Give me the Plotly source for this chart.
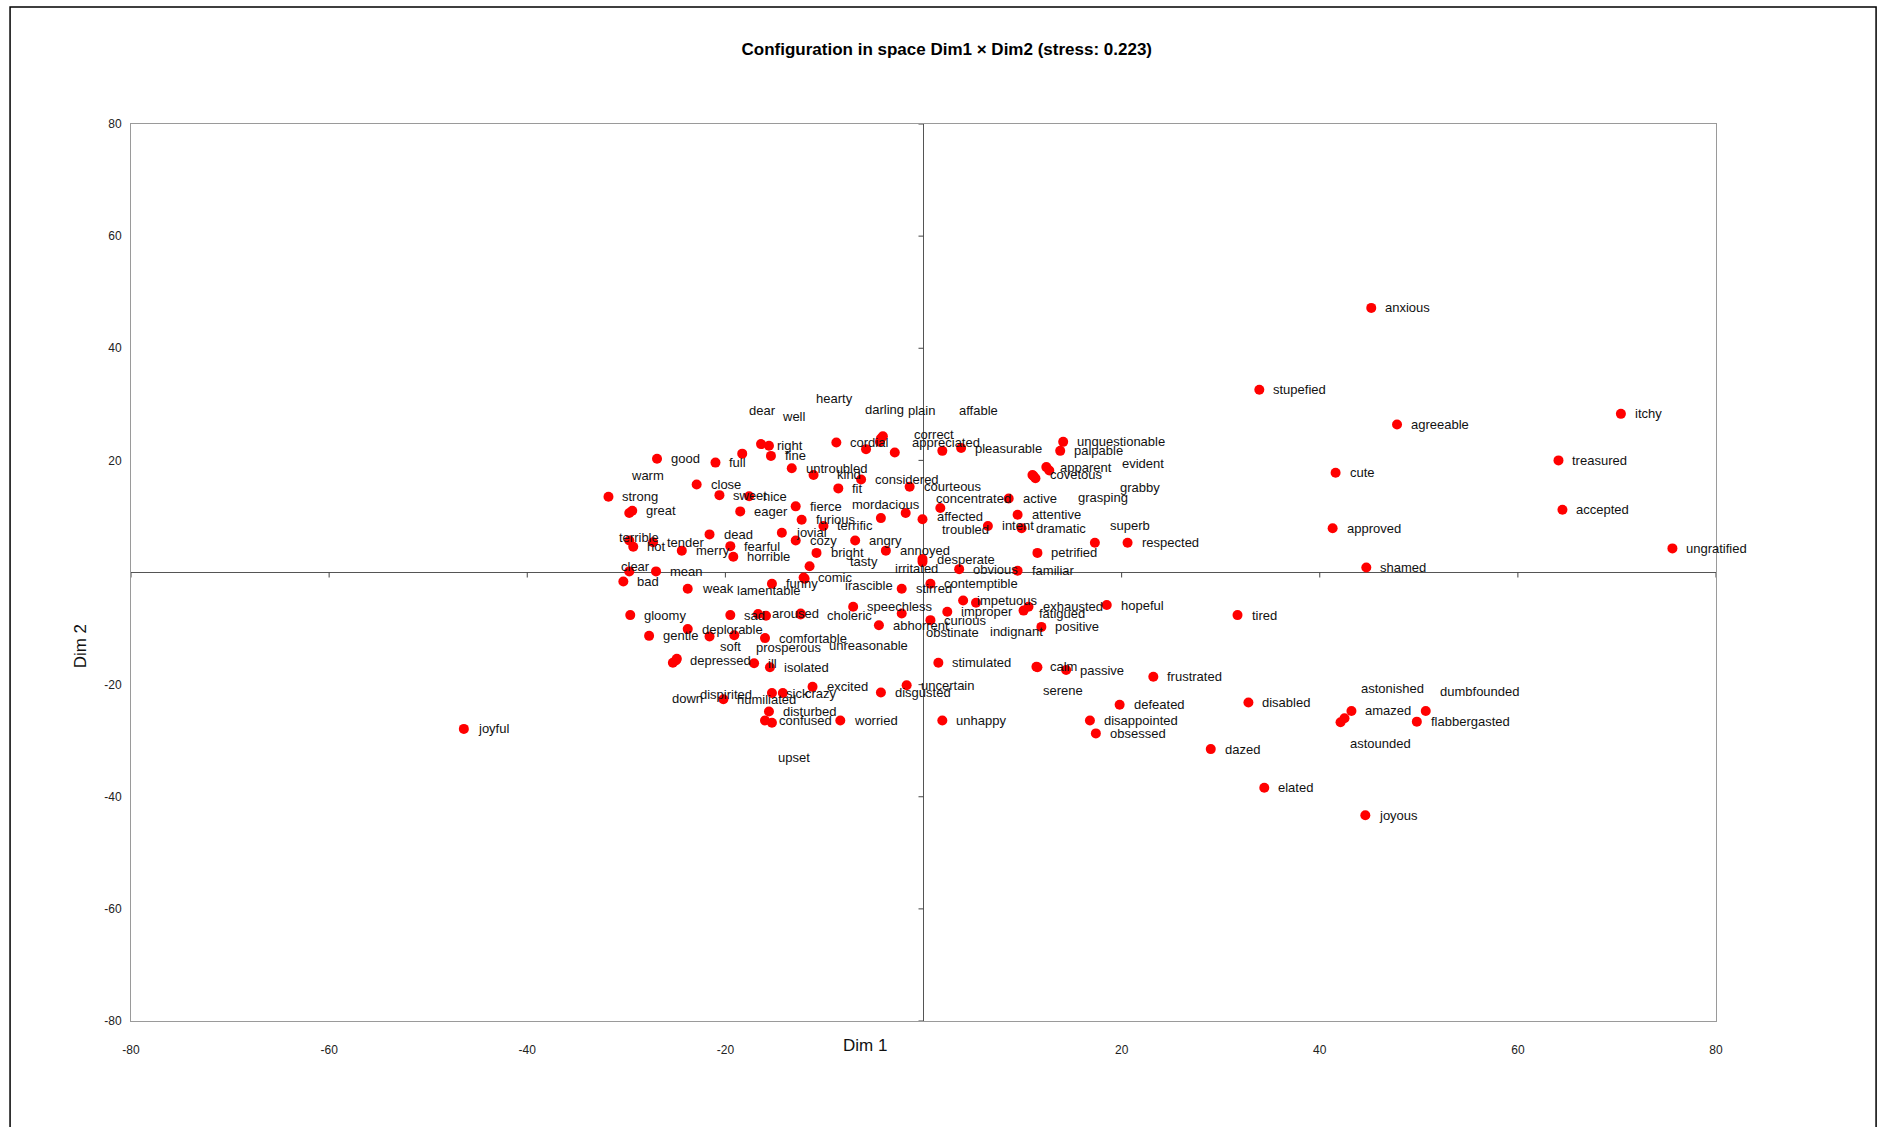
import plotly.graph_objects as go

# ---------------- data ----------------
names = [
    "joyful", "anxious", "stupefied", "agreeable", "itchy", "treasured", "cute", "accepted",
    "approved", "ungratified", "shamed", "tired", "disabled", "dazed", "elated", "joyous",
    "amazed", "astonished", "astounded", "dumbfounded", "flabbergasted", "frustrated",
    "defeated", "disappointed", "obsessed", "calm", "passive", "serene", "stimulated",
    "unhappy", "uncertain", "disgusted", "worried", "excited", "upset", "confused",
    "disturbed", "sick", "crazy", "humiliated", "dispirited", "down", "depressed", "ill",
    "isolated", "prosperous", "comfortable", "unreasonable", "soft", "deplorable", "gentle",
    "gloomy", "sad", "aroused", "lamentable", "choleric", "speechless", "abhorrent",
    "stirred", "obstinate", "curious", "improper", "impetuous", "indignant", "contemptible",
    "irascible", "comic", "funny", "weak", "bad", "clear", "mean", "tasty", "irritated",
    "desperate", "obvious", "familiar", "petrified", "superb", "respected", "hopeful",
    "exhausted", "fatigued", "positive", "annoyed", "angry", "bright", "cozy", "jovial",
    "terrific", "furious", "horrible", "fearful", "merry", "tender", "hot", "terrible",
    "dead", "great", "warm", "strong", "eager", "fierce", "close", "sweet", "nice", "good",
    "full", "dear", "well", "right", "fine", "untroubled", "kind", "cordial", "hearty",
    "darling", "correct", "plain", "appreciated", "affable", "pleasurable", "considered",
    "fit", "courteous", "mordacious", "concentrated", "affected", "troubled", "active",
    "attentive", "intent", "dramatic", "unquestionable", "palpable", "apparent", "evident",
    "covetous", "grasping", "grabby",
]

dim1 = [
    -46.4, 45.2, 33.9, 47.8, 70.4, 64.1, 41.6, 64.5,
    41.3, 75.6, 44.7, 31.7, 32.8, 29.0, 34.4, 44.6,
    43.2, 42.5, 42.1, 50.7, 49.8, 23.2,
    19.8, 16.8, 17.4, 11.4, 14.4, 11.5, 1.5,
    1.9, -1.7, -4.3, -8.4, -11.2, -15.3, -16.0,
    -15.6, -15.3, -14.2, -20.2, -25.3, -24.9, -25.0, -17.1,
    -15.5, -19.1, -16.0, -12.4, -21.6, -23.8, -27.7,
    -29.6, -19.5, -16.7, -15.9, -12.4, -7.1, -4.5,
    -2.2, -2.2, 0.7, 2.4, 4.0, 5.3, 0.7,
    -12.0, -12.1, -15.3, -23.8, -30.3, -29.7, -27.0, -11.5, -0.1,
    -0.1, 3.6, 9.5, 11.5, 17.3, 20.6, 18.5,
    10.6, 10.1, 11.9, -3.8, -6.9, -10.8, -12.9, -14.3,
    -10.1, -12.3, -19.2, -19.5, -24.4, -27.3, -29.3, -29.7,
    -21.6, -29.4, -29.7, -31.8, -18.5, -12.9, -22.9, -20.6, -17.6, -26.9,
    -21.0, -18.3, -16.4, -15.6, -15.4, -13.3, -11.1, -8.8, -5.8,
    -4.4, -4.1, -4.3, -2.9, 1.9, 3.8, -6.3,
    -8.6, -1.4, -4.3, -1.8, -0.1, 1.7, 8.6,
    9.5, 6.5, 9.9, 14.1, 13.8, 12.4, 12.7,
    11.0, 11.3, 11.1,
]

dim2 = [
    -27.9, 47.2, 32.6, 26.4, 28.3, 20.0, 17.8, 11.2,
    7.9, 4.3, 0.9, -7.6, -23.2, -31.5, -38.4, -43.3,
    -24.7, -26.0, -26.7, -24.7, -26.6, -18.6,
    -23.6, -26.4, -28.7, -16.8, -17.4, -16.9, -16.1,
    -26.4, -20.1, -21.4, -26.4, -20.4, -26.8, -26.4,
    -24.8, -21.5, -21.5, -22.6, -16.1, -15.4, -15.7, -16.2,
    -16.9, -11.2, -11.7, -7.5, -11.4, -10.1, -11.3,
    -7.6, -7.6, -7.4, -7.7, -7.3, -6.1, -9.4,
    -2.9, -7.3, -8.5, -7.0, -5.0, -5.4, -2.0,
    -1.1, -0.9, -2.0, -2.9, -1.6, 0.2, 0.2, 1.1, 1.9,
    2.4, 0.6, 0.3, 3.5, 5.3, 5.3, -5.8,
    -6.1, -6.8, -9.7, 3.9, 5.7, 3.5, 5.7, 7.1,
    8.3, 9.4, 2.8, 4.7, 3.9, 5.4, 4.6, 5.7,
    6.8, 11.0, 10.6, 13.5, 10.9, 11.8, 15.7, 13.8, 13.6, 20.3,
    19.6, 21.2, 22.9, 22.6, 20.8, 18.6, 17.4, 23.2, 22.0,
    23.3, 24.3, 23.9, 21.4, 21.7, 22.2, 16.6,
    15.0, 15.3, 9.7, 10.6, 9.5, 11.5, 13.2,
    10.3, 8.3, 7.9, 23.3, 21.7, 18.8, 18.2,
    17.4, 16.8, 17.2,
]

x_ticks = [-80, -60, -40, -20, 20, 40, 60, 80]
y_ticks = [-80, -60, -40, -20, 20, 40, 60, 80]

# label placement (pixel shifts from the point); default is right of point
DEFAULT_SHIFT = (12, 0)
LABEL_SHIFT = {
    "astonished": (14, 30), "astounded": (7, -21), "dumbfounded": (12, 19),
    "serene": (4, -23), "upset": (4, -35), "crazy": (20, 0), "dispirited": (25, -32),
    "down": (-7, -40), "prosperous": (20, -12), "unreasonable": (26, -31),
    "soft": (8, -10), "lamentable": (-31, 25), "choleric": (24, -2),
    "obstinate": (22, -19), "indignant": (12, -29), "irascible": (38, -7),
    "clear": (-10, 5), "tasty": (38, 5), "irritated": (-30, -7), "superb": (13, 17),
    "terrible": (-12, 3), "warm": (0, 38), "dear": (5, 43), "well": (19, 28),
    "right": (6, 0), "kind": (21, 0), "hearty": (-52, 51), "darling": (-17, 32),
    "correct": (29, 2), "plain": (25, 28), "appreciated": (15, 10), "affable": (15, 40),
    "mordacious": (-31, 14), "concentrated": (28, 15), "affected": (12, 3),
    "troubled": (0, -21), "evident": (71, 7), "covetous": (16, 0), "grasping": (41, -19),
    "grabby": (85, -11), "fatigued": (13, -3),
}

LABEL_FONT = "Liberation Sans Narrow, Arial Narrow, Liberation Sans, Arial, sans-serif"

# ---------------- figure ----------------
fig = go.Figure()
fig.add_trace(go.Scatter(
    x=dim1, y=dim2, mode="markers", text=names, hoverinfo="text",
    marker=dict(color="#FF0000", size=10, line=dict(width=0)),
    showlegend=False,
))

annotations = []
for n, xv, yv in zip(names, dim1, dim2):
    dx, dy = LABEL_SHIFT.get(n, DEFAULT_SHIFT)
    annotations.append(dict(
        x=xv, y=yv, xref="x", yref="y", text=n, showarrow=False,
        xanchor="left", yanchor="middle", xshift=dx, yshift=dy,
        font=dict(family=LABEL_FONT, size=13, color="#111111"),
    ))

# axis titles
annotations.append(dict(
    x=0.463, y=-0.027, xref="paper", yref="paper", text="Dim 1", showarrow=False,
    xanchor="center", yanchor="middle",
    font=dict(family=LABEL_FONT, size=17, color="#111111"),
))
annotations.append(dict(
    x=-0.032, y=0.418, xref="paper", yref="paper", text="Dim 2", showarrow=False,
    xanchor="center", yanchor="middle", textangle=-90,
    font=dict(family=LABEL_FONT, size=17, color="#111111"),
))

shapes = []
# small tick marks on the zero axes
for t in x_ticks:
    shapes.append(dict(type="line", xref="x", yref="y", ysizemode="pixel", yanchor=0,
                       x0=t, x1=t, y0=0, y1=-5, line=dict(color="#444444", width=1)))
for t in y_ticks:
    shapes.append(dict(type="line", xref="x", yref="y", xsizemode="pixel", xanchor=0,
                       x0=0, x1=-5, y0=t, y1=t, line=dict(color="#444444", width=1)))
# outer frame of the chart
shapes.append(dict(type="rect", xref="paper", yref="paper",
                   x0=-0.0763, x1=1.101, y0=-0.2, y1=1.1304,
                   line=dict(color="#000000", width=1.5), fillcolor="rgba(0,0,0,0)"))

axis_common = dict(
    range=[-80, 80], showgrid=False, zeroline=True, zerolinecolor="#555555",
    zerolinewidth=1, showline=True, mirror=True, linecolor="#9a9a9a", linewidth=1,
    ticks="", tickfont=dict(family="Liberation Sans, Arial, sans-serif", size=12,
                            color="#222222"),
)

fig.update_layout(
    width=1886, height=1127,
    margin=dict(l=131, r=170, t=124, b=106),
    paper_bgcolor="white", plot_bgcolor="white",
    title=dict(
        text="<b>Configuration in space Dim1 × Dim2 (stress: 0.223)</b>",
        x=0.502, xref="container", xanchor="center",
        y=1 - 49 / 1127, yref="container", yanchor="middle",
        font=dict(family=LABEL_FONT, size=17, color="#000000"),
    ),
    xaxis=dict(axis_common, tickvals=x_ticks, ticktext=[str(t) for t in x_ticks],
               ticklabelstandoff=18),
    yaxis=dict(axis_common, tickvals=y_ticks, ticktext=[str(t) for t in y_ticks],
               ticklabelstandoff=6),
    annotations=annotations,
    shapes=shapes,
)

fig.write_html("out.html", config={"displayModeBar": False},
               post_script="document.body.style.margin='0';document.body.style.overflow='hidden';")
